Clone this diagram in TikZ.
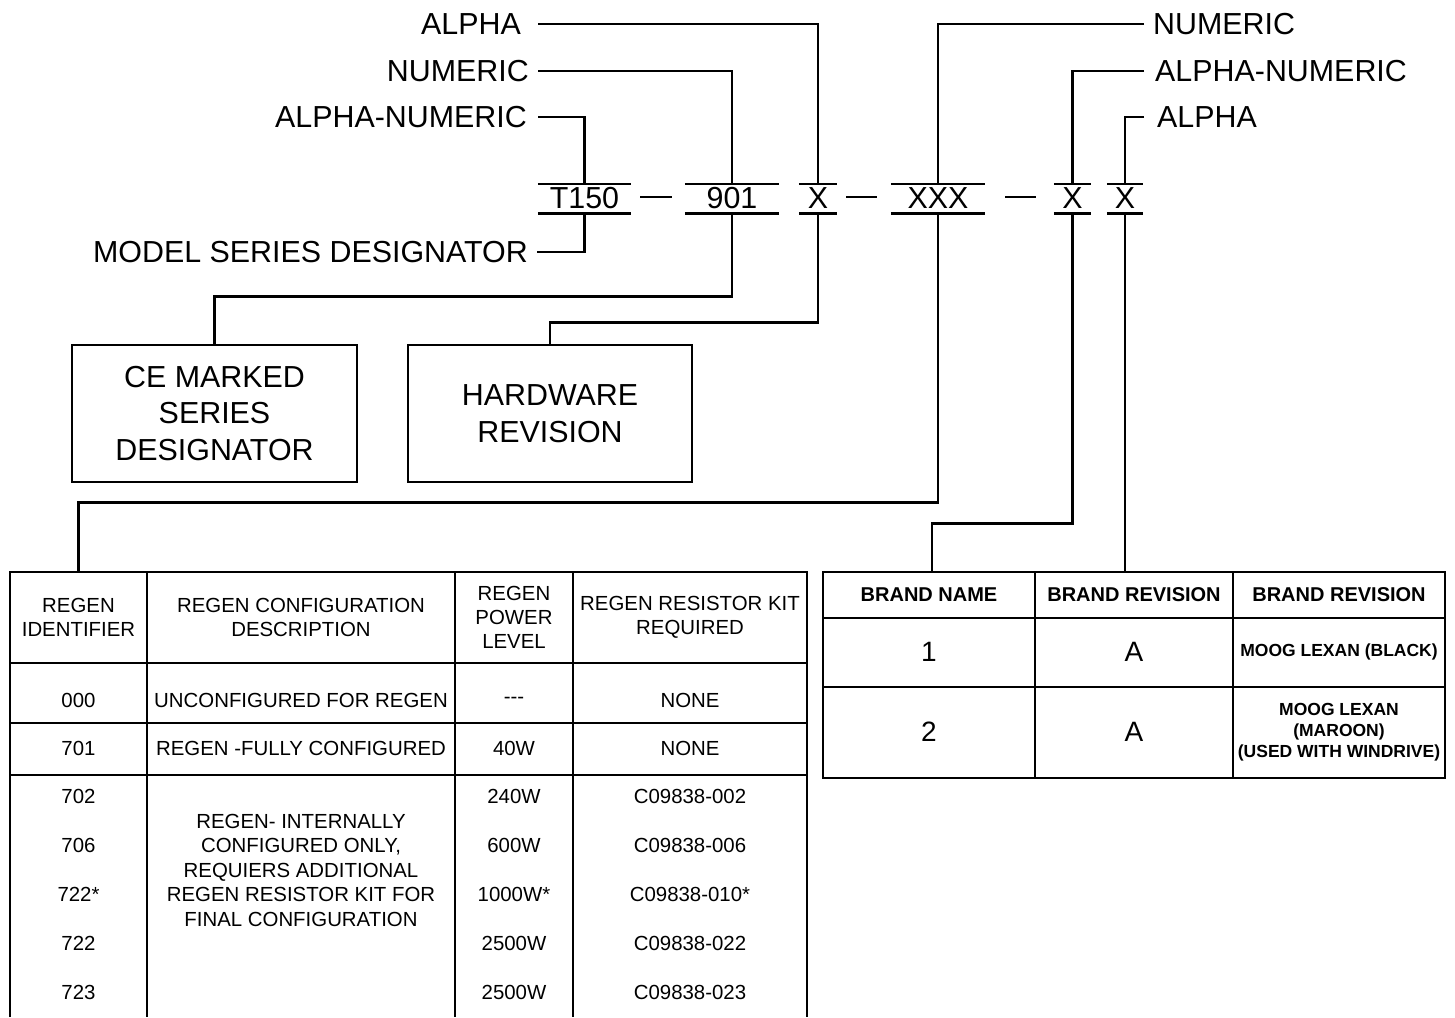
\documentclass[tikz,border=0pt]{standalone}
\usepackage{fontspec}
\setmainfont{Liberation Sans}
\begin{document}
\begin{tikzpicture}[x=1pt, y=-1pt,
  conn/.style={line width=2.6pt},
  tbl/.style={line width=2pt},
  big/.style={font=\fontsize{30.4}{36.5}\selectfont},
  lbl/.style={big, inner xsep=10pt, inner ysep=0pt},
  codebox/.style={big, inner sep=0pt, minimum height=29pt},
  box/.style={draw, line width=2pt, big, align=center, minimum width=285pt, minimum height=137pt, inner sep=0pt},
  cell/.style={font=\fontsize{20.4}{24}\selectfont, align=center, inner sep=0pt},
  bcell/.style={font=\bfseries\fontsize{20}{24}\selectfont, align=center, inner sep=0pt},
  scell/.style={font=\bfseries\fontsize{17.5}{21}\selectfont, align=center, inner sep=0pt},
  ncell/.style={font=\fontsize{28}{34}\selectfont, inner sep=0pt}]
  \useasboundingbox (0,0) rectangle (1455,1017);

  % code string
  \node[codebox, minimum width=93pt] (c1) at (584.5,198.5) {T150};
  \node[codebox, minimum width=94pt] (c2) at (732,198.5) {901};
  \node[codebox, minimum width=38pt] (c3) at (818,198.5) {X};
  \node[codebox, minimum width=94pt] (c4) at (938,198.5) {XXX};
  \node[codebox, minimum width=37pt] (c5) at (1072.5,198.5) {X};
  \node[codebox, minimum width=36pt] (c6) at (1125,198.5) {X};
  \foreach \n in {c1,c2,c3,c4,c5,c6} {
    \draw[conn] (\n.north west) -- (\n.north east) (\n.south west) -- (\n.south east);
  }
  % dashes between groups
  \draw[conn] (640,197) -- (672,197);
  \draw[conn] (846,197) -- (877,197);
  \draw[conn] (1005,197) -- (1036,197);

  % labels above, left side
  \node[lbl, anchor=east, inner xsep=17pt] (la) at (538,24) {ALPHA};
  \node[lbl, anchor=east, inner xsep=9pt] (ln) at (538,71) {NUMERIC};
  \node[lbl, anchor=east, inner xsep=11pt] (lan) at (538,117) {ALPHA-NUMERIC};
  \node[lbl, anchor=east, inner xsep=9pt] (lm) at (537,252) {MODEL SERIES DESIGNATOR};
  \draw[conn] (la.east) -| (c3.north);
  \draw[conn] (ln.east) -| (c2.north);
  \draw[conn] (lan.east) -| (c1.north);
  \draw[conn] (c1.south) |- (lm.east);

  % labels above, right side
  \node[lbl, anchor=west, inner xsep=9pt] (rn) at (1144,24) {NUMERIC};
  \node[lbl, anchor=west, inner xsep=11pt] (ran) at (1144,71) {ALPHA-NUMERIC};
  \node[lbl, anchor=west, inner xsep=13pt] (ra) at (1144,117) {ALPHA};
  \draw[conn] (rn.west) -| (c4.north);
  \draw[conn] (ran.west) -| (c5.north);
  \draw[conn] (ra.west) -| (c6.north);

  % boxes
  \node[box] (ce) at (214.5,413.5) {CE MARKED\\SERIES\\DESIGNATOR};
  \node[box, minimum width=284pt] (hw) at (550,413.5) {HARDWARE\\REVISION};
  \draw[conn] (c2.south) -- ++(0,83) -| (ce.north);
  \draw[conn] (c3.south) -- ++(0,109) -| (hw.north);

  % regen table
  \coordinate (rtop) at (78.5,572);
  \draw[tbl] (10,1017) |- (807,572) -- (807,1017);
  \draw[tbl] (10,663) -- (807,663) (10,723) -- (807,723) (10,775) -- (807,775);
  \foreach \x in {147,455,573} {
    \draw[tbl] (\x,572) -- (\x,1017);
  }
  \node[cell] (h1) at (78.5,617.5) {REGEN\\IDENTIFIER};
  \node[cell] (h2) at (301,617.5) {REGEN CONFIGURATION\\DESCRIPTION};
  \node[cell] (h3) at (514,617.5) {REGEN\\POWER\\LEVEL};
  \node[cell] (h4) at (690,617.5) {REGEN RESISTOR KIT\\REQUIRED};
  \node[cell] (a1) at (78.5,700) {000};
  \node[cell] (a2) at (301,700) {UNCONFIGURED FOR REGEN};
  \node[cell] (a3) at (514,700) {{-}{-}{-}};
  \node[cell] (a4) at (690,700) {NONE};
  \node[cell] (b1) at (78.5,748.5) {701};
  \node[cell] (b2) at (301,748.5) {REGEN -FULLY CONFIGURED};
  \node[cell] (b3) at (514,748.5) {40W};
  \node[cell] (b4) at (690,748.5) {NONE};
  \foreach \y/\id/\pw/\kit in {796/702/240W/C09838-002, 845/706/600W/C09838-006,
      894/722*/1000W*/C09838-010*, 943/722/2500W/C09838-022, 992/723/2500W/C09838-023} {
    \node[cell] (id\y) at (78.5,\y) {\id};
    \node[cell] (pw\y) at (514,\y) {\pw};
    \node[cell] (kit\y) at (690,\y) {\kit};
  }
  \node[cell, font=\fontsize{20.4}{24.5}\selectfont] (desc) at (301,870)
    {REGEN- INTERNALLY\\CONFIGURED ONLY,\\REQUIERS ADDITIONAL\\REGEN RESISTOR KIT FOR\\FINAL CONFIGURATION};
  \draw[conn] (c4.south) -- ++(0,289) -| (rtop);

  % brand table
  \coordinate (btop1) at (932,572);
  \coordinate (btop2) at (1125,572);
  \draw[tbl] (823,572) rectangle (1445,778);
  \draw[tbl] (823,618) -- (1445,618) (823,687) -- (1445,687);
  \draw[tbl] (1035,572) -- (1035,778) (1233,572) -- (1233,778);
  \node[bcell] (bh1) at (929,595) {BRAND NAME};
  \node[bcell] (bh2) at (1134,595) {BRAND REVISION};
  \node[bcell] (bh3) at (1339,595) {BRAND REVISION};
  \node[ncell] (n1) at (929,652) {1};
  \node[ncell] (r1) at (1134,652) {A};
  \node[scell] (m1) at (1339,652) {MOOG LEXAN (BLACK)};
  \node[ncell] (n2) at (929,732) {2};
  \node[ncell] (r2) at (1134,732) {A};
  \node[scell] (m2) at (1339,732) {MOOG LEXAN\\(MAROON)\\(USED WITH WINDRIVE)};
  \draw[conn] (c5.south) -- ++(0,310) -| (btop1);
  \draw[conn] (c6.south) -- (btop2);
\end{tikzpicture}
\end{document}
